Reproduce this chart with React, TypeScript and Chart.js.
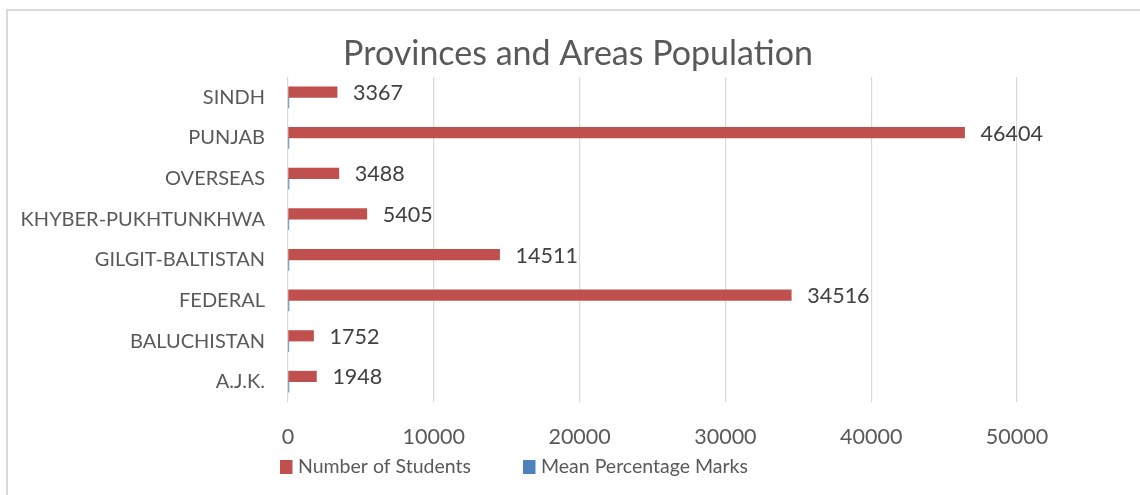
import React, { useEffect, useRef } from "react";
import { Chart, registerables } from "chart.js";

Chart.register(...registerables);

const titleText = "Provinces and Areas Population";
const categories = [
  "SINDH",
  "PUNJAB",
  "OVERSEAS",
  "KHYBER-PUKHTUNKHWA",
  "GILGIT-BALTISTAN",
  "FEDERAL",
  "BALUCHISTAN",
  "A.J.K.",
];
const numberOfStudents = [3367, 46404, 3488, 5405, 14511, 34516, 1752, 1948];
const meanPercentageMarks = [58, 62, 66, 57, 60, 65, 55, 61];
const seriesNames = ["Number of Students", "Mean Percentage Marks"];
const xTicks = [0, 10000, 20000, 30000, 40000, 50000];

const FONT = "Lato";
const TEXT = "#595959";
const LABEL = "#404040";
const RED = "#C0504D";
const BLUE = "#4F81BD";

const dataLabelPlugin = {
  id: "dataLabels",
  afterDatasetsDraw(chart: any) {
    const ctx = chart.ctx;
    const meta = chart.getDatasetMeta(0);
    const values = chart.data.datasets[0].data;
    ctx.save();
    ctx.font = `21.5px ${FONT}`;
    ctx.fillStyle = LABEL;
    ctx.textAlign = "left";
    ctx.textBaseline = "middle";
    meta.data.forEach((bar: any, i: number) => {
      ctx.fillText(String(values[i]), bar.x + 16, bar.y + 1);
    });
    ctx.restore();
  },
};

const legendPlugin = {
  id: "bottomLegend",
  afterDraw(chart: any) {
    const ctx = chart.ctx;
    const y = chart.scales.x.bottom + 15;
    let x = chart.chartArea.left - 8;
    ctx.save();
    ctx.font = `19.5px ${FONT}`;
    ctx.textAlign = "left";
    ctx.textBaseline = "middle";
    chart.data.datasets.forEach((ds: any) => {
      ctx.fillStyle = ds.backgroundColor;
      ctx.fillRect(x, y - 7, 12.5, 14);
      ctx.fillStyle = TEXT;
      ctx.fillText(ds.label, x + 18, y);
      x += 18 + ctx.measureText(ds.label).width + 52;
    });
    ctx.restore();
  },
};

function BarChart() {
  const ref = useRef<HTMLCanvasElement | null>(null);
  useEffect(() => {
    let chart: Chart | null = null;
    let cancelled = false;
    const make = () => {
      if (cancelled || !ref.current) return;
      chart = new Chart(ref.current, {
        type: "bar",
        data: {
          labels: categories,
          datasets: [
            {
              label: seriesNames[0],
              data: numberOfStudents,
              backgroundColor: RED,
              barThickness: 10.5,
            },
            {
              label: seriesNames[1],
              data: meanPercentageMarks,
              backgroundColor: BLUE,
              barThickness: 10.5,
            },
          ],
        },
        options: {
          animation: false,
          responsive: true,
          maintainAspectRatio: false,
          indexAxis: "y",
          layout: { padding: { left: 0, right: 0, top: 0, bottom: 49 } },
          plugins: {
            legend: { display: false },
            tooltip: { enabled: false },
            title: {
              display: true,
              text: titleText,
              color: TEXT,
              font: { family: FONT, size: 34, weight: "normal" },
              padding: { top: 23, bottom: 2.2 },
            },
          },
          scales: {
            x: {
              type: "linear",
              min: 0,
              max: 50000,
              afterBuildTicks: (s: any) => {
                s.ticks = xTicks.map((v) => ({ value: v }));
              },
              afterFit: (s: any) => {
                s.height = 50;
              },
              grid: { color: "#d9d9d9", drawTicks: false, lineWidth: 1.2 },
              border: { display: false },
              ticks: {
                color: TEXT,
                font: { family: FONT, size: 21.5 },
                padding: 22,
                callback: (v: any) => String(v),
              },
            },
            y: {
              type: "category",
              afterFit: (s: any) => {
                s.width = 280;
              },
              grid: { display: false, drawTicks: false },
              border: { display: false },
              ticks: {
                color: TEXT,
                font: { family: FONT, size: 20 },
                padding: 23,
              },
            },
            yRight: {
              type: "linear",
              position: "right",
              display: true,
              afterFit: (s: any) => {
                s.width = 131;
              },
              grid: { display: false, drawTicks: false },
              border: { display: false },
              ticks: { display: false },
            },
          },
        } as any,
        plugins: [dataLabelPlugin, legendPlugin],
      });
    };
    const fonts: any = (document as any).fonts;
    if (fonts && fonts.load) {
      Promise.all([fonts.load(`20px ${FONT}`), fonts.load(`34px ${FONT}`)])
        .catch(() => null)
        .then(make);
    } else {
      make();
    }
    return () => {
      cancelled = true;
      if (chart) chart.destroy();
    };
  }, []);

  return (
    <div
      style={{
        position: "fixed",
        left: 0,
        top: 0,
        width: 1140,
        height: 495,
        overflow: "hidden",
        background: "#fff",
      }}
    >
      <div
        style={{
          position: "absolute",
          left: 6,
          top: 9,
          width: 1150,
          height: 500,
          border: "2px solid #d9d9d9",
          boxSizing: "border-box",
        }}
      >
        <div style={{ position: "absolute", left: 0, top: 0, width: 1140, height: 490 }}>
          <canvas ref={ref} />
        </div>
      </div>
    </div>
  );
}

export default function App() {
  return <BarChart />;
}
